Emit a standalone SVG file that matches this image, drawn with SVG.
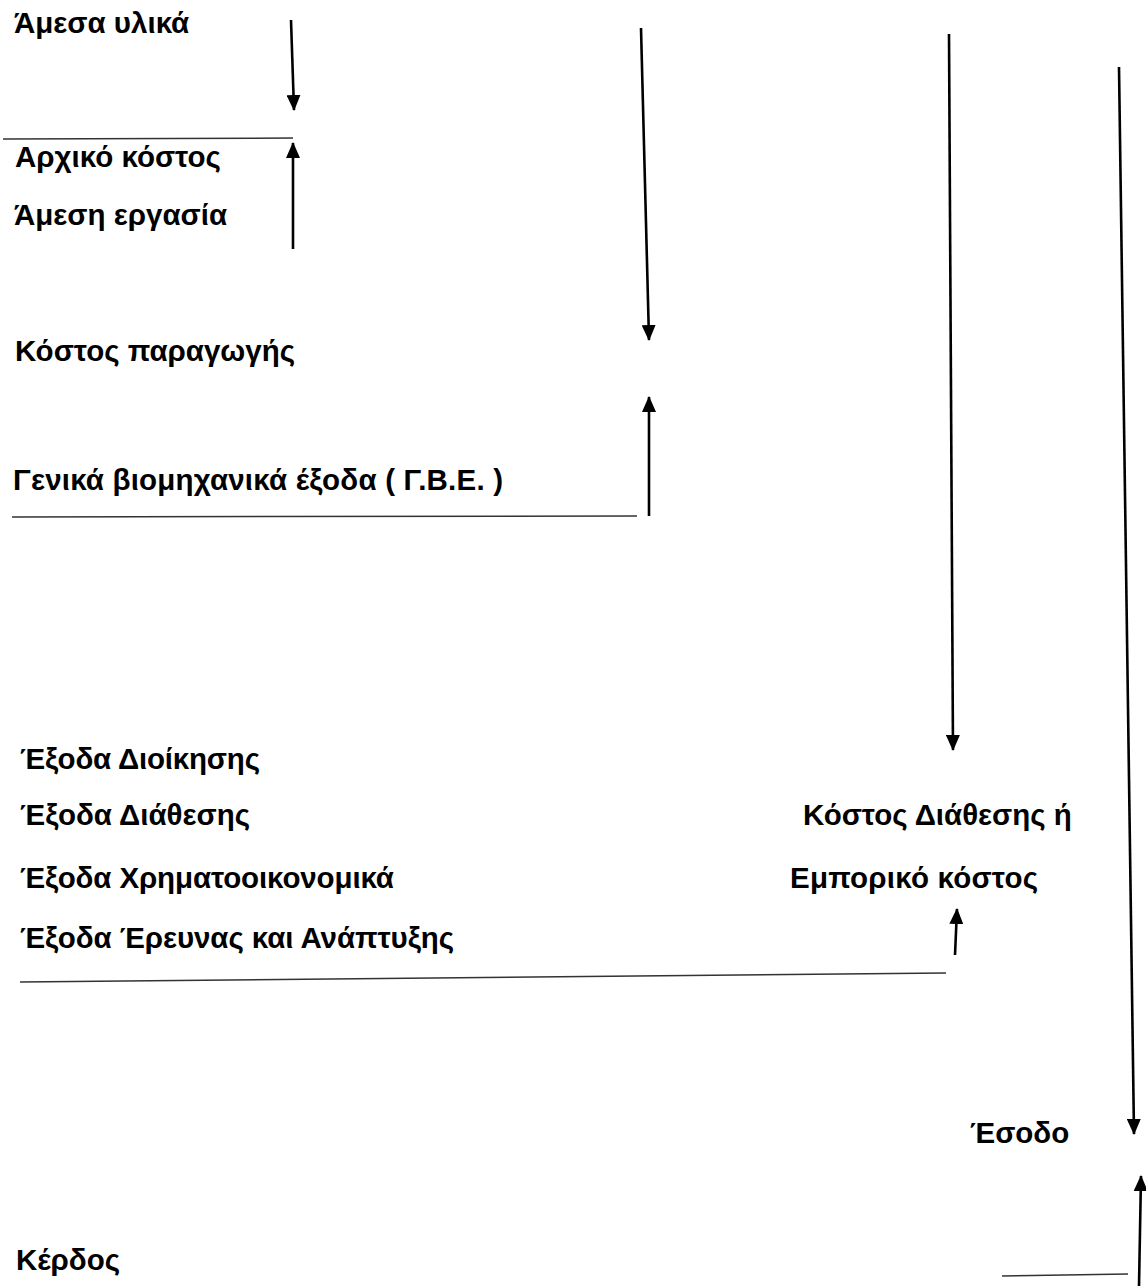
<svg xmlns="http://www.w3.org/2000/svg" width="1146" height="1287" viewBox="0 0 1146 1287">
  <style>
    .lbl { font-family: "Liberation Sans", Arial, sans-serif; font-weight: bold; font-size: 29.5px; fill: #000; }
    .arrow { stroke: #000; stroke-width: 2.6; fill: none; }
    .rule { stroke: #333; stroke-width: 1.5; fill: none; }
  </style>
  <defs>
    <marker id="head" viewBox="0 0 16 14" refX="15" refY="7" markerWidth="16" markerHeight="14" markerUnits="userSpaceOnUse" orient="auto">
      <path d="M0,0 L16,7 L0,14 Z" fill="#000"/>
    </marker>
  </defs>
  <rect width="1146" height="1287" fill="#fff"/>

  <g id="direct-materials"><text class="lbl" x="14" y="33">Άμεσα υλικά</text></g>
  <g id="prime-cost"><text class="lbl" x="15" y="167">Αρχικό κόστος</text></g>
  <g id="direct-labour"><text class="lbl" x="14" y="225">Άμεση εργασία</text></g>
  <g id="production-cost"><text class="lbl" x="15" y="361" textLength="280" lengthAdjust="spacing">Κόστος παραγωγής</text></g>
  <g id="overheads"><text class="lbl" x="13" y="490" textLength="490" lengthAdjust="spacing">Γενικά βιομηχανικά έξοδα ( Γ.Β.Ε. )</text></g>
  <g id="admin-expenses"><text class="lbl" x="20" y="769" textLength="240" lengthAdjust="spacing">Έξοδα Διοίκησης</text></g>
  <g id="selling-expenses"><text class="lbl" x="20" y="825" textLength="230" lengthAdjust="spacing">Έξοδα Διάθεσης</text></g>
  <g id="financial-expenses"><text class="lbl" x="20" y="888" textLength="374" lengthAdjust="spacing">Έξοδα Χρηματοοικονομικά</text></g>
  <g id="rnd-expenses"><text class="lbl" x="20" y="948" textLength="434" lengthAdjust="spacing">Έξοδα Έρευνας και Ανάπτυξης</text></g>
  <g id="commercial-cost">
    <text class="lbl" x="803" y="825">Κόστος Διάθεσης ή</text>
    <text class="lbl" x="790" y="888" textLength="248" lengthAdjust="spacing">Εμπορικό κόστος</text>
  </g>
  <g id="revenue"><text class="lbl" x="970" y="1143">Έσοδο</text></g>
  <g id="profit"><text class="lbl" x="16" y="1270">Κέρδος</text></g>

  <g id="connectors">
    <line class="rule" x1="3" y1="139" x2="293" y2="138"/>
    <line class="arrow" x1="291" y1="20" x2="294" y2="110" marker-end="url(#head)"/>
    <line class="arrow" x1="293" y1="249" x2="293" y2="143" marker-end="url(#head)"/>
    <line class="arrow" x1="641" y1="28" x2="649" y2="340" marker-end="url(#head)"/>
    <line class="arrow" x1="649" y1="516" x2="649" y2="397" marker-end="url(#head)"/>
    <line class="rule" x1="12" y1="517" x2="637" y2="516"/>
    <line class="arrow" x1="949" y1="34" x2="953" y2="750" marker-end="url(#head)"/>
    <line class="arrow" x1="955" y1="955" x2="957" y2="909" marker-end="url(#head)"/>
    <line class="rule" x1="20" y1="982" x2="946" y2="973"/>
    <line class="arrow" x1="1119" y1="67" x2="1134" y2="1134" marker-end="url(#head)"/>
    <line class="arrow" x1="1139" y1="1286" x2="1141" y2="1176" marker-end="url(#head)"/>
    <line class="rule" x1="1002" y1="1276" x2="1128" y2="1274"/>
  </g>
</svg>
